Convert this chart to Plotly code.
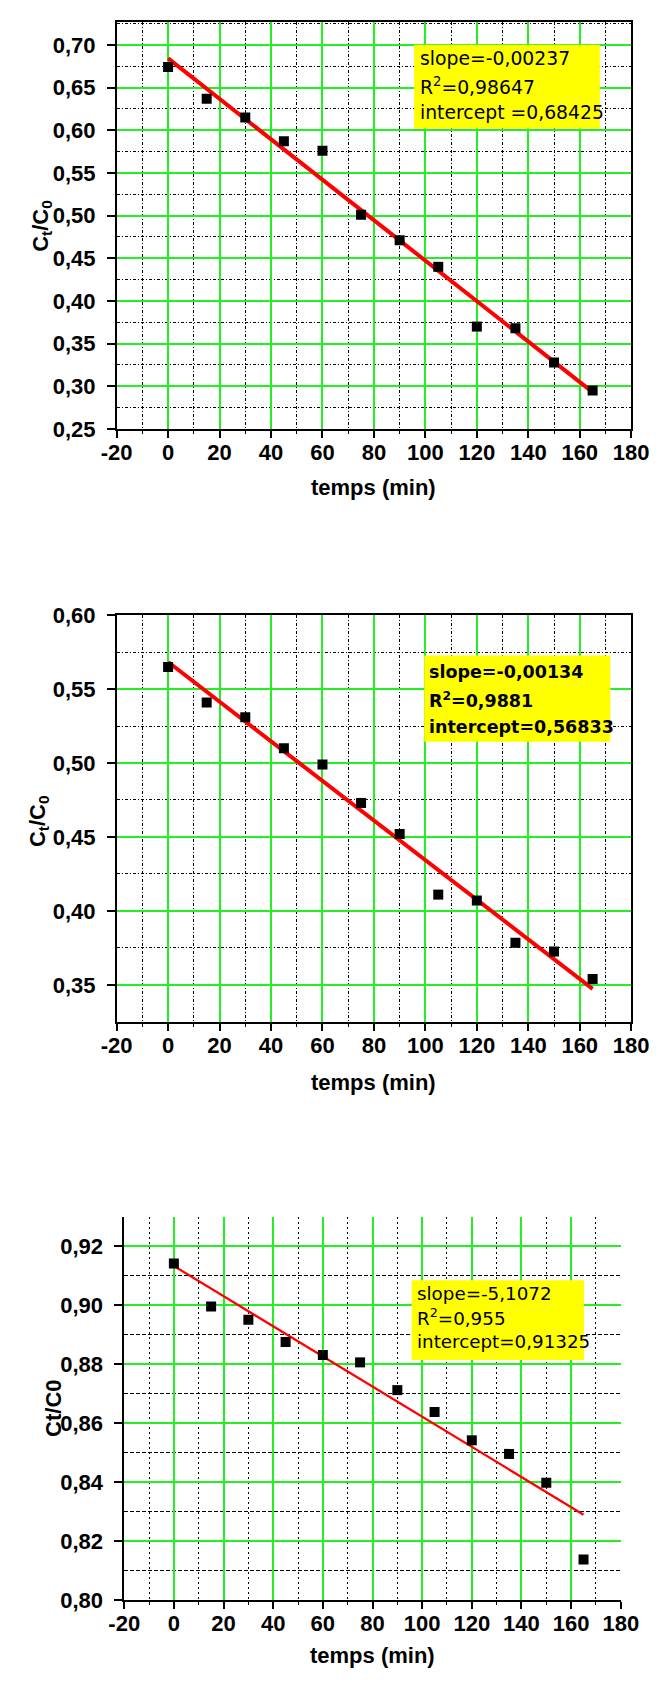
import plotly.graph_objects as go

W, H = 672, 1682

# ---------------- data ----------------
time_min = [0, 15, 30, 45, 60, 75, 90, 105, 120, 135, 150, 165]
c1 = [0.674, 0.637, 0.615, 0.587, 0.576, 0.501, 0.471, 0.440, 0.370, 0.368, 0.328, 0.295]
c2 = [0.565, 0.541, 0.531, 0.510, 0.499, 0.473, 0.452, 0.411, 0.407, 0.3785, 0.3726, 0.354]
c3 = [0.9141, 0.8995, 0.8950, 0.8875, 0.8831, 0.8806, 0.8712, 0.8638, 0.8542, 0.8496, 0.8398, 0.8138]

fit_x = [0, 165]
fit1 = [0.68425, 0.2932]
fit2 = [0.56833, 0.3472]
fit3 = [0.91325, 0.8290]

box1 = ["slope=-0,00237", "R<sup>2</sup>=0,98647", "intercept =0,68425"]
box2 = ["slope=-0,00134", "R<sup>2</sup>=0,9881", "intercept=0,56833"]
box3 = ["slope=-5,1072", "R<sup>2</sup>=0,955", "intercept=0,91325"]

x_ticks = [-20, 0, 20, 40, 60, 80, 100, 120, 140, 160, 180]
x_tick_labels = ["-20", "0", "20", "40", "60", "80", "100", "120", "140", "160", "180"]

y1_ticks = [0.25, 0.30, 0.35, 0.40, 0.45, 0.50, 0.55, 0.60, 0.65, 0.70]
y1_tick_labels = ["0,25", "0,30", "0,35", "0,40", "0,45", "0,50", "0,55", "0,60", "0,65", "0,70"]
y2_ticks = [0.35, 0.40, 0.45, 0.50, 0.55, 0.60]
y2_tick_labels = ["0,35", "0,40", "0,45", "0,50", "0,55", "0,60"]
y3_ticks = [0.80, 0.82, 0.84, 0.86, 0.88, 0.90, 0.92]
y3_tick_labels = ["0,80", "0,82", "0,84", "0,86", "0,88", "0,90", "0,92"]

x_title = "temps (min)"
y_title_12 = "C<sub>t</sub>/C<sub>0</sub>"
y_title_3 = "Ct/C0"

# ---------------- helpers ----------------
def px(x):
    return x / W

def py(y):
    return 1 - y / H

GREEN = "#22f022"
ARIAL = "Liberation Sans, Arial, sans-serif"
BOX_FONT = "DejaVu Sans, Verdana, sans-serif"
tickfont = dict(family=ARIAL, size=22, color="black", weight="bold")


def make_x(l, r, anchor, mirror, xdash):
    return dict(
        domain=[px(l), px(r)], range=[-20, 180], anchor=anchor,
        tickmode="array", tickvals=x_ticks, ticktext=x_tick_labels,
        ticks="outside", ticklen=7, tickwidth=1.5, tickcolor="black",
        showline=True, linecolor="black", linewidth=1.5, mirror=mirror,
        showgrid=True, gridcolor=GREEN, gridwidth=1.5, zeroline=False,
        tickfont=tickfont, ticklabelstandoff=-4,
        minor=dict(tickmode="linear", tick0=-10, dtick=20, showgrid=True,
                   gridcolor="black", griddash=xdash, gridwidth=1,
                   ticks="outside", ticklen=3, tickwidth=1, tickcolor="black"),
    )


def make_y(t, b, rng, ticks, labels, minor0, minord, anchor, mirror, ydash):
    return dict(
        domain=[py(b), py(t)], range=rng, anchor=anchor,
        tickmode="array", tickvals=ticks, ticktext=labels,
        ticks="outside", ticklen=8, tickwidth=1.5, tickcolor="black",
        showline=True, linecolor="black", linewidth=1.5, mirror=mirror,
        showgrid=True, gridcolor=GREEN, gridwidth=1.5, zeroline=False,
        tickfont=tickfont, ticklabelstandoff=7,
        minor=dict(tickmode="linear", tick0=minor0, dtick=minord, showgrid=True,
                   gridcolor="black", griddash=ydash, gridwidth=1, ticks=""),
    )


fig = go.Figure()

series = [
    (c1, fit1, "x", "y", 4),
    (c2, fit2, "x2", "y2", 4),
    (c3, fit3, "x3", "y3", 2.2),
]
for data, fit, xa, ya, lw in series:
    fig.add_trace(go.Scatter(x=fit_x, y=fit, mode="lines", xaxis=xa, yaxis=ya,
                             line=dict(color="#ff0000", width=lw), showlegend=False))
    fig.add_trace(go.Scatter(x=time_min, y=data, mode="markers", xaxis=xa, yaxis=ya,
                             marker=dict(symbol="square", size=10, color="black"),
                             showlegend=False))

DD = "3px,2px,1px,2px"
fig.update_layout(
    width=W, height=H, autosize=False,
    margin=dict(l=0, r=0, t=0, b=0),
    paper_bgcolor="white", plot_bgcolor="white",
    showlegend=False,
    xaxis=make_x(106, 648, "y", True, DD),
    yaxis=make_y(10, 423.3, [0.25, 0.727], y1_ticks, y1_tick_labels, 0.275, 0.05, "x", True, DD),
    xaxis2=make_x(106, 648, "y2", True, DD),
    yaxis2=make_y(612.3, 1025, [0.325, 0.60], y2_ticks, y2_tick_labels, 0.375, 0.05, "x2", True, DD),
    xaxis3=make_x(114, 637, "y3", False, "2px,3px"),
    yaxis3=make_y(1222.7, 1612.3, [0.80, 0.93], y3_ticks, y3_tick_labels, 0.81, 0.02, "x3", False, "4px,2px"),
)

shapes = []
annotations = []

# fit-result boxes: (x0, x1, y0, y1, text_left, line centres, lines, size, bold)
boxes = [
    (419.3, 615, 33.3, 118.3, 423.3, [46.7, 75, 101.7], box1, 18.8, False),
    (430, 626, 653.3, 740.7, 432.7, [670, 698.3, 726], box2, 17.5, True),
    (416.7, 598.3, 1287.3, 1368.3, 420.7, [1300.7, 1325, 1350], box3, 18.3, False),
]
for x0, x1, y0, y1, tl, ys, lines, size, bold in boxes:
    shapes.append(dict(type="rect", xref="paper", yref="paper",
                       x0=px(x0), x1=px(x1), y0=py(y1), y1=py(y0),
                       fillcolor="#ffff00", line=dict(width=0), layer="above"))
    for yy, txt in zip(ys, lines):
        annotations.append(dict(xref="paper", yref="paper", x=px(tl), y=py(yy),
                                xanchor="left", yanchor="middle", showarrow=False,
                                text=txt,
                                font=dict(family=BOX_FONT, size=size, color="black",
                                          weight="bold" if bold else "normal")))

titlefont = dict(family=ARIAL, size=22, color="black", weight="bold")
for xc, yc in [(377, 483), (377, 1086.7), (375.5, 1668)]:
    annotations.append(dict(xref="paper", yref="paper", x=px(xc), y=py(yc),
                            xanchor="center", yanchor="middle", showarrow=False,
                            text=x_title, font=titlefont))
for xc, yc, txt in [(27.7, 216.7, y_title_12), (23.5, 821, y_title_12), (40, 1417, y_title_3)]:
    annotations.append(dict(xref="paper", yref="paper", x=px(xc), y=py(yc),
                            xanchor="center", yanchor="middle", showarrow=False,
                            textangle=-90, text=txt, font=titlefont))

fig.update_layout(shapes=shapes, annotations=annotations)

fig.write_html("out.html", config={"displayModeBar": False})
